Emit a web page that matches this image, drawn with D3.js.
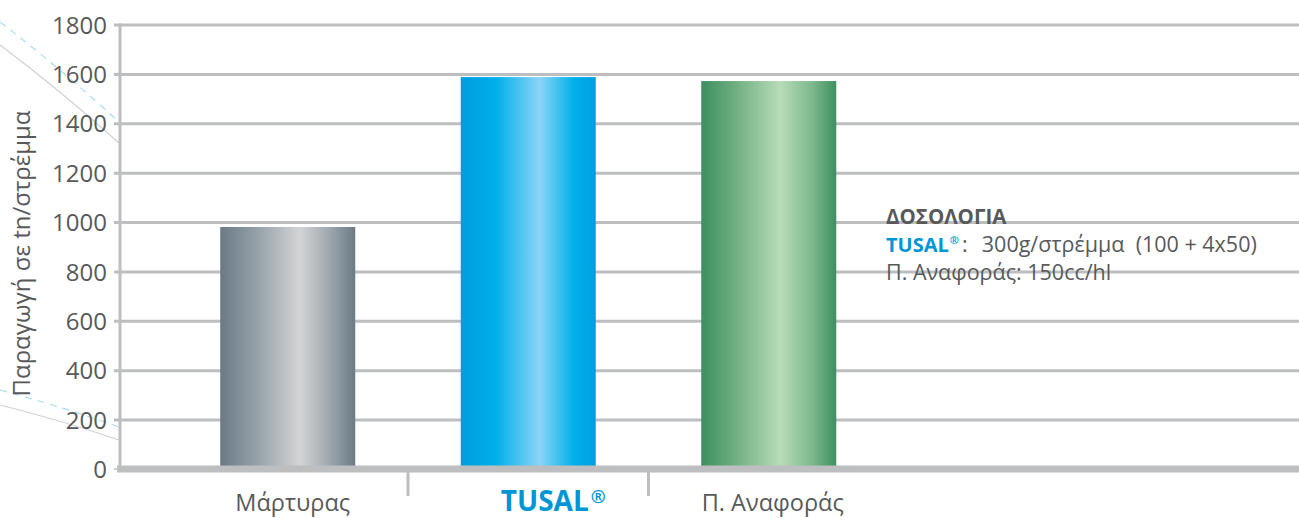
<!DOCTYPE html>
<html>
<head>
<meta charset="utf-8">
<script src="https://cdn.jsdelivr.net/npm/d3@7"></script>
<style>
  html, body { margin: 0; padding: 0; background: #ffffff; }
  svg { display: block; }
  text { font-family: "Open Sans", "Noto Sans", sans-serif; }
</style>
</head>
<body>
<svg id="chart" width="1299" height="518"></svg>
<script>
// ---- data ----
const categories = ["Μάρτυρας", "TUSAL", "Π. Αναφοράς"];
const values = [980, 1587, 1571];
const yTicks = [0, 200, 400, 600, 800, 1000, 1200, 1400, 1600, 1800];
const yTitle = "Παραγωγή σε tn/στρέμμα";
const noteTitle = "ΔΟΣΟΛΟΓΙΑ";
const noteBrand = "TUSAL";
const noteLine1 = "\u00A0\u00A0300g/στρέμμα\u00A0\u00A0(100 + 4x50)";
const noteLine2 = "Π. Αναφοράς: 150cc/hl";

// ---- styles ----
const gray = "#58595b";
const gridColor = "#bcbec0";
const brandBlue = "#0096d6";
const gradients = [
  [[0, "#6a7a85"], [0.3, "#9aa5ac"], [0.59, "#d3d4d6"], [0.8, "#a0a9b0"], [1, "#6b7b86"]],
  [[0, "#009ddf"], [0.26, "#00afea"], [0.585, "#8ad4f6"], [0.84, "#00b0ea"], [1, "#009fdf"]],
  [[0, "#3d8e5e"], [0.25, "#6fae80"], [0.585, "#b7dcb8"], [0.82, "#7db98c"], [1, "#3e8f5f"]]
];
const labelDx = [5, 25, 4];

const svg = d3.select("#chart");
const defs = svg.append("defs");

const y = d3.scaleLinear().domain([0, 1800]).range([469, 24.5]);
const x = d3.scaleBand().domain(categories).range([167.5, 889])
  .paddingInner(0.4387).paddingOuter(0.2193);

// decorative arcs on the left
const deco = svg.append("g");
deco.append("path").attr("d", "M0,45 Q60,90 119,143")
  .attr("fill", "none").attr("stroke", "#d0d1d3").attr("stroke-width", 1.2);
deco.append("path").attr("d", "M0,22 Q60,68 119,122")
  .attr("fill", "none").attr("stroke", "#a9dcf3").attr("stroke-width", 1.2).attr("stroke-dasharray", "7,6");
deco.append("path").attr("d", "M0,405 Q60,420 119,440")
  .attr("fill", "none").attr("stroke", "#d0d1d3").attr("stroke-width", 1.2);
deco.append("path").attr("d", "M0,390 Q60,406 119,427")
  .attr("fill", "none").attr("stroke", "#a9dcf3").attr("stroke-width", 1.2).attr("stroke-dasharray", "7,6");

// gridlines (via axis)
const gridAxis = d3.axisLeft(y).tickValues(yTicks.filter(d => d > 0))
  .tickSize(-(1299 - 114)).tickFormat("");
const gridG = svg.append("g").attr("transform", "translate(114,0)").call(gridAxis);
gridG.select(".domain").remove();
gridG.selectAll(".tick line").attr("stroke", gridColor).attr("stroke-width", 3);

// tick labels
const labelAxis = d3.axisLeft(y).tickValues(yTicks).tickFormat(d3.format("d")).tickSize(0).tickPadding(0);
const labG = svg.append("g").attr("transform", "translate(107,0)").call(labelAxis);
labG.select(".domain").remove();
labG.selectAll(".tick text")
  .attr("fill", gray).attr("font-size", 24)
  .attr("font-family", "'Open Sans', sans-serif").attr("dy", "0.36em");

// vertical axis line
svg.append("line").attr("x1", 120).attr("x2", 120).attr("y1", y(1800) - 1).attr("y2", y(0))
  .attr("stroke", gridColor).attr("stroke-width", 3);

// gradients
gradients.forEach((stops, i) => {
  const g = defs.append("linearGradient").attr("id", "grad" + i)
    .attr("x1", 0).attr("x2", 1).attr("y1", 0).attr("y2", 0);
  stops.forEach(s => g.append("stop").attr("offset", s[0]).attr("stop-color", s[1]));
});

// bars
svg.append("g").selectAll("rect").data(values).join("rect")
  .attr("x", (d, i) => x(categories[i]))
  .attr("width", x.bandwidth())
  .attr("y", d => y(d))
  .attr("height", d => y(0) - y(d))
  .attr("fill", (d, i) => `url(#grad${i})`);

// baseline (zero line)
svg.append("line").attr("x1", 114).attr("x2", 1299).attr("y1", y(0)).attr("y2", y(0))
  .attr("stroke", gridColor).attr("stroke-width", 1.5);
svg.append("line").attr("x1", 117).attr("x2", 1299).attr("y1", y(0)).attr("y2", y(0))
  .attr("stroke", gridColor).attr("stroke-width", 7);

// category dividers
const step = x.step();
svg.append("g").selectAll("line").data(categories.slice(0, -1)).join("line")
  .attr("x1", d => x(d) + x.bandwidth() + (step - x.bandwidth()) / 2)
  .attr("x2", d => x(d) + x.bandwidth() + (step - x.bandwidth()) / 2)
  .attr("y1", y(0) + 3).attr("y2", 496)
  .attr("stroke", gridColor).attr("stroke-width", 3);

// category labels
const catG = svg.append("g");
categories.forEach((c, i) => {
  const t = catG.append("text")
    .attr("x", x(c) + x.bandwidth() / 2 + labelDx[i]).attr("y", 511)
    .attr("text-anchor", "middle");
  if (c === "TUSAL") {
    t.append("tspan").text("TUSAL").attr("font-weight", 700).attr("font-size", 28).attr("fill", brandBlue);
    t.append("tspan").text("®").attr("font-weight", 700).attr("font-size", 18).attr("fill", brandBlue)
      .attr("dy", -8).attr("dx", 2);
  } else {
    t.text(c).attr("font-size", 23.5).attr("fill", gray);
  }
});

// y-axis title
svg.append("text").attr("transform", "translate(30,253.5) rotate(-90)")
  .attr("text-anchor", "middle").attr("font-size", 24).attr("fill", gray).text(yTitle);

// annotation
const note = svg.append("g");
note.append("text").attr("x", 886).attr("y", 224).attr("font-size", 20.5).attr("font-weight", 700)
  .attr("fill", gray).text(noteTitle);
const l2 = note.append("text").attr("x", 886).attr("y", 252).attr("font-size", 21.5).attr("fill", gray);
l2.append("tspan").text(noteBrand).attr("font-weight", 700).attr("font-size", 20).attr("fill", brandBlue);
l2.append("tspan").text("®").attr("font-size", 11).attr("font-weight", 700).attr("fill", brandBlue)
  .attr("dy", -8).attr("dx", 1);
l2.append("tspan").text(":").attr("dy", 8).attr("dx", 3);
l2.append("tspan").text(noteLine1).attr("dx", 3);
note.append("text").attr("x", 886).attr("y", 280).attr("font-size", 21.5).attr("fill", gray).text(noteLine2);
</script>
</body>
</html>
